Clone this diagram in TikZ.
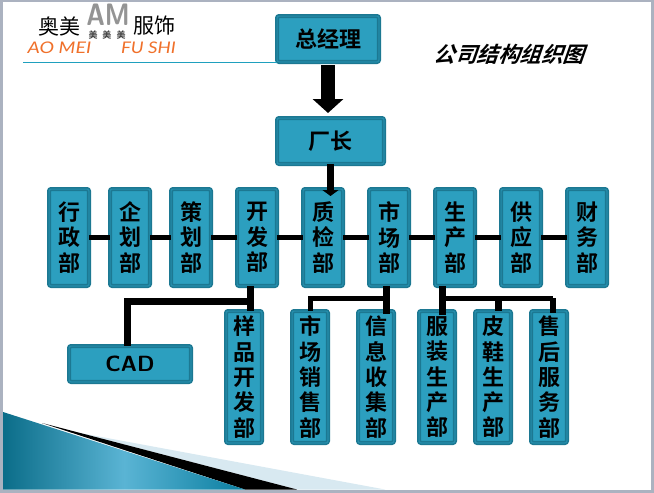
\documentclass[tikz,border=0pt]{standalone}
\usepackage{fontspec}
\usetikzlibrary{arrows.meta}
\newfontfamily\cjk[BoldFont={Noto Sans CJK SC Bold}]{Noto Sans CJK SC}
\newfontfamily\cjkslant[FakeSlant=0.35]{Noto Sans CJK SC Bold}
\newfontfamily\latinit{Lato Italic}
\definecolor{boxfill}{HTML}{2C9FBF}
\definecolor{boxedge}{HTML}{1C7892}
\definecolor{rulecol}{HTML}{1FA0BE}
\definecolor{frame}{HTML}{ABB2C0}
\definecolor{wedgedark}{HTML}{0B6D89}
\definecolor{wedgemid}{HTML}{5AB4D4}
\definecolor{wedgeright}{HTML}{0A7EA0}
\definecolor{wedgelight}{HTML}{D8E9F1}
\definecolor{logoorange}{HTML}{F0702A}
\tikzset{
  orgbox/.style={draw=boxedge,line width=1.5pt,double=boxedge!45!boxfill,double distance=1.2pt,fill=boxfill,rounded corners=2pt,inner sep=0pt,outer sep=0pt,align=center,text=black,font=\cjk\bfseries\fontsize{22}{25.3}\selectfont},
  link/.style={draw=black,line width=#1},
  logotext/.style={inner sep=0pt,font=\cjk\fontsize{21}{21}\selectfont,text=black},
  logolatin/.style={inner sep=0pt,font=\latinit\fontsize{16}{16}\selectfont,text=logoorange}
}
\newcommand{\orgnode}[6]{\node[orgbox,minimum width=#4-#2-4.2,minimum height=#5-#3-4.2] (#1) at ({(#2+#4)/2},{(#3+#5)/2}) {\raisebox{0pt}{}#6};}
\begin{document}
\begin{tikzpicture}[x=1pt,y=-1pt]
\useasboundingbox (0,0) rectangle (654,493);
\fill[frame] (0,0) rectangle (654,493);
\fill[white] (3,1.5) rectangle (650.5,489.5);
% wedges
\fill[wedgelight] (80,433) -- (385,489.5) -- (297,489.5) -- cycle;
\fill[black] (42,423) -- (297,489.5) -- (245,489.5) -- cycle;
\shade[left color=wedgedark,right color=wedgeright,middle color=wedgemid] (3,412) -- (245,489.5) -- (3,489.5) -- cycle;
% logo
\node[logotext] (ao) at (59.5,26) {奥美};
\node[logotext] (fs) at (154.5,26) {服饰};
\node[inner sep=0pt,text=black!42,xscale=.82,font=\sffamily\bfseries\fontsize{31}{31}\selectfont] (am) at (108,15) {AM};
\node[inner sep=0pt,text=black!75,font=\cjk\bfseries\fontsize{9}{9}\selectfont] (mei) at (107,35.5) {美\hspace{5pt}美\hspace{5pt}美};
\node[logolatin,xscale=1.22] (l1) at (59.5,48) {AO MEI};
\node[logolatin,xscale=1.17] (l2) at (148.5,48) {FU SHI};
\coordinate (r1) at (23,62);
% title
\node[inner sep=0pt,font=\cjkslant\fontsize{21.5}{21.5}\selectfont] (title) at (509,54) {公司结构组织图};
% boxes
\orgnode{gm}{275}{14}{381}{64}{总经理}
\orgnode{fz}{275}{116}{386}{166}{厂长}
\draw[rulecol,line width=1pt] (r1) -- (r1 -| gm.west);
\orgnode{xz}{47}{187}{91}{288}{行\\政\\部}
\orgnode{qh}{108}{187}{152}{288}{企\\划\\部}
\orgnode{ch}{169}{187}{213}{288}{策\\划\\部}
\orgnode{kf}{235}{187}{279}{288}{开\\发\\部}
\orgnode{zj}{301}{187}{345}{288}{质\\检\\部}
\orgnode{sc}{367}{187}{411}{288}{市\\场\\部}
\orgnode{sb}{433}{187}{477}{288}{生\\产\\部}
\orgnode{gy}{499}{187}{543}{288}{供\\应\\部}
\orgnode{cw}{565}{187}{609}{288}{财\\务\\部}
\orgnode{yp}{224}{309}{264}{445}{样\\品\\开\\发\\部}
\orgnode{xs}{290}{309}{330}{445}{市\\场\\销\\售\\部}
\orgnode{xx}{356}{309}{396}{445}{信\\息\\收\\集\\部}
\orgnode{fu}{417}{309}{457}{445}{服\\装\\生\\产\\部}
\orgnode{px}{473}{309}{513}{445}{皮\\鞋\\生\\产\\部}
\orgnode{sh}{529}{309}{569}{445}{售\\后\\服\\务\\部}
\orgnode{cad}{67}{344}{193}{384}{\sffamily\bfseries\fontsize{22}{22}\selectfont CAD}
% connectors
\coordinate (a1) at (328,113);
\coordinate (a1s) at (328,65);
\draw[link=14pt,-{Triangle[length=14pt,width=30pt]}] (a1s) -- (a1);
\coordinate (a2) at (330.5,196);
\draw[link=7pt,-{Triangle[length=6pt,width=16pt]}] (a2 |- fz.south) -- (a2);
\foreach \p/\q in {xz/qh,qh/ch,ch/kf,kf/zj,zj/sc,sc/sb,sb/gy,gy/cw}{\draw[link=5pt] (\p.east |- 0,237) -- (\q.west |- 0,237);}
\coordinate (j1) at (250,301);
\coordinate (j1b) at (127.5,301);
\draw[link=7pt] (j1 |- kf.south) -- (j1 |- yp.north);
\draw[link=7pt] (j1) -- (j1b) -- (j1b |- cad.north);
\coordinate (j2) at (386.5,298);
\coordinate (j2b) at (310,298);
\coordinate (j2e) at (386.5,314);
\draw[link=7pt] (j2 |- sc.south) -- (j2e);
\draw[link=5pt] (j2) -- (j2b) -- (j2b |- xs.north);
\coordinate (j3) at (442.5,298);
\coordinate (j3b) at (498.5,298);
\coordinate (j3c) at (553,298);
\coordinate (j3e) at (442.5,315);
\coordinate (j3f) at (553,313);
\draw[link=7pt] (j3 |- sb.south) -- (j3e);
\draw[link=5pt] (j3) -- (j3c);
\draw[link=7pt] (j3b) -- (j3b |- px.north);
\draw[link=6pt] (j3c) -- (j3f);
\end{tikzpicture}
\end{document}
